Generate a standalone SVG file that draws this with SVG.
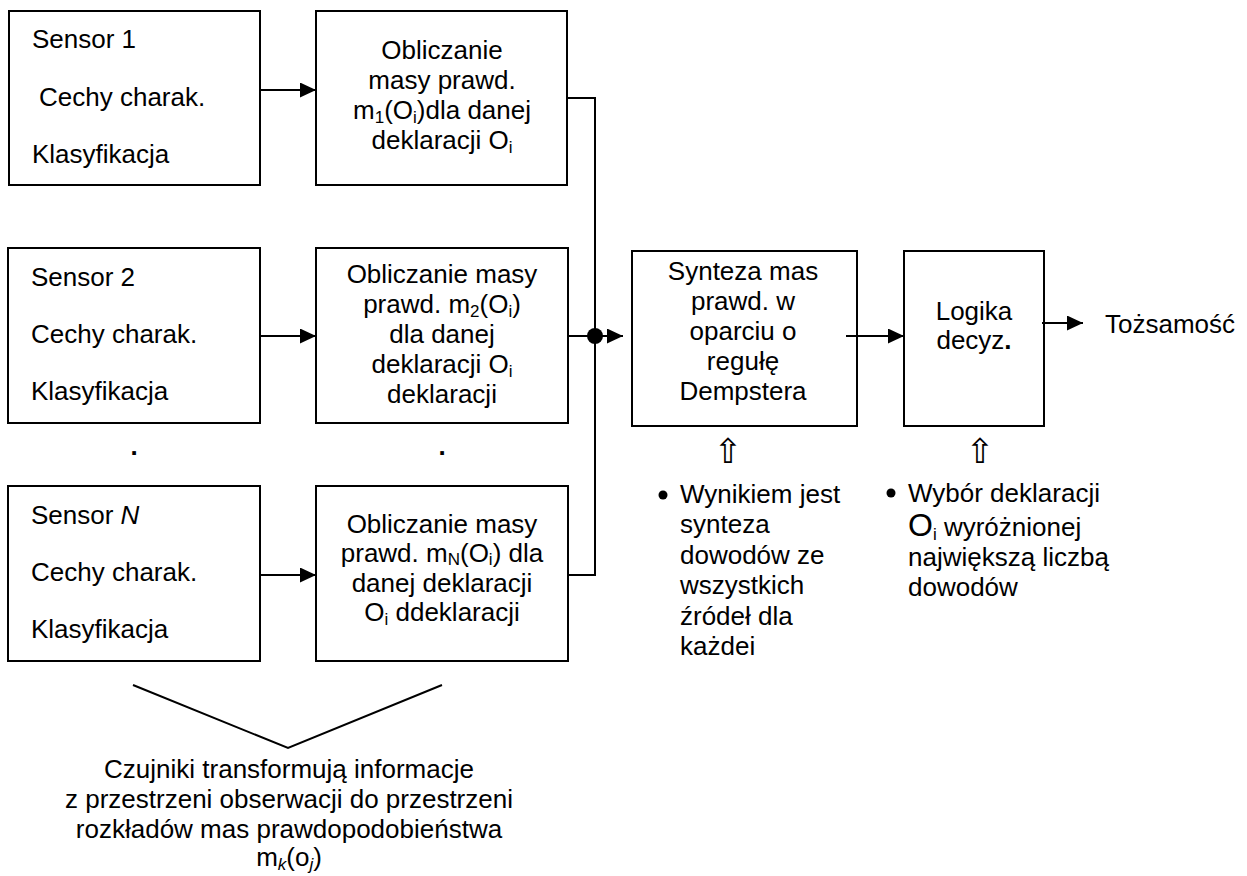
<svg xmlns="http://www.w3.org/2000/svg" width="1247" height="876" viewBox="0 0 1247 876">
<defs>
<style>
text{font-family:"Liberation Sans",Arial,sans-serif;font-size:26px;fill:#000}
.c{text-anchor:middle}
.box{fill:#fff;stroke:#000;stroke-width:2}
.ln{fill:none;stroke:#000;stroke-width:2}
.sym{font-family:"DejaVu Sans",sans-serif;font-size:34px;text-anchor:middle}
</style>
<marker id="ah" markerUnits="userSpaceOnUse" markerWidth="17" markerHeight="15" refX="16" refY="7.5" orient="auto">
<path d="M0,0 L16,7.5 L0,15 Z" fill="#000"/>
</marker>
</defs>
<rect width="1247" height="876" fill="#fff"/>

<g id="sensor1">
<rect class="box" x="9" y="11" width="251" height="174"/>
<text x="32" y="48">Sensor 1</text>
<text x="39" y="106">Cechy charak.</text>
<text x="32" y="163">Klasyfikacja</text>
</g>
<g id="oblicz1">
<rect class="box" x="316" y="11" width="251" height="174"/>
<text class="c" x="442" y="59">Obliczanie</text>
<text class="c" x="442" y="89">masy prawd.</text>
<text class="c" x="442" y="119">m<tspan font-size="17" dy="4">1</tspan><tspan dy="-4">(O</tspan><tspan font-size="17" dy="4">i</tspan><tspan dy="-4">)dla danej</tspan></text>
<text class="c" x="442" y="149">deklaracji O<tspan font-size="17" dy="4">i</tspan></text>
</g>

<g id="sensor2">
<rect class="box" x="8" y="248" width="252" height="175"/>
<text x="31" y="286">Sensor 2</text>
<text x="31" y="343">Cechy charak.</text>
<text x="31" y="400">Klasyfikacja</text>
</g>
<g id="oblicz2">
<rect class="box" x="316" y="248" width="252" height="175"/>
<text class="c" x="442" y="283">Obliczanie masy</text>
<text class="c" x="442" y="313">prawd. m<tspan font-size="17" dy="4">2</tspan><tspan dy="-4">(O</tspan><tspan font-size="17" dy="4">i</tspan><tspan dy="-4">)</tspan></text>
<text class="c" x="442" y="343">dla danej</text>
<text class="c" x="442" y="373">deklaracji O<tspan font-size="17" dy="4">i</tspan></text>
<text class="c" x="442" y="403">deklaracji</text>
</g>

<g id="dots">
<text class="c" x="134" y="455" font-weight="bold">.</text>
<text class="c" x="442" y="455" font-weight="bold">.</text>
</g>

<g id="sensorN">
<rect class="box" x="8" y="486" width="252" height="175"/>
<text x="31" y="524">Sensor <tspan font-style="italic">N</tspan></text>
<text x="31" y="581">Cechy charak.</text>
<text x="31" y="638">Klasyfikacja</text>
</g>
<g id="obliczN">
<rect class="box" x="316" y="486" width="252" height="175"/>
<text class="c" x="442" y="533">Obliczanie masy</text>
<text class="c" x="442" y="562">prawd. m<tspan font-size="17" dy="3">N</tspan><tspan dy="-3">(O</tspan><tspan font-size="17" dy="3">i</tspan><tspan dy="-3">) dla</tspan></text>
<text class="c" x="442" y="592">danej deklaracji</text>
<text class="c" x="442" y="621">O<tspan font-size="17" dy="4">i</tspan><tspan dy="-4"> ddeklaracji</tspan></text>
</g>

<g id="synteza">
<rect class="box" x="632" y="251" width="225" height="175"/>
<text class="c" x="743" y="280">Synteza mas</text>
<text class="c" x="743" y="310">prawd. w</text>
<text class="c" x="743" y="340">oparciu o</text>
<text class="c" x="743" y="370">regułę</text>
<text class="c" x="743" y="400">Dempstera</text>
</g>

<g id="logika">
<rect class="box" x="904" y="251" width="140" height="175"/>
<text class="c" x="974" y="320">Logika</text>
<text class="c" x="974" y="349">decyz<tspan font-weight="bold">.</tspan></text>
</g>

<g id="tozsamosc">
<text x="1105" y="333">Tożsamość</text>
</g>

<g id="note1">
<text class="sym" x="728" y="463">⇧</text>
<circle cx="663" cy="495" r="4.5" fill="#000"/>
<text x="680" y="503">Wynikiem jest</text>
<text x="680" y="533">synteza</text>
<text x="680" y="564">dowodów ze</text>
<text x="680" y="594">wszystkich</text>
<text x="680" y="625">źródeł dla</text>
<text x="680" y="655">każdei</text>
</g>

<g id="note2">
<text class="sym" x="980" y="463">⇧</text>
<circle cx="891" cy="493" r="4.5" fill="#000"/>
<text x="908" y="502">Wybór deklaracji</text>
<text x="908" y="536"><tspan font-size="32">O</tspan><tspan font-size="17" dy="4">i</tspan><tspan dy="-4"> wyróżnionej</tspan></text>
<text x="908" y="566">największą liczbą</text>
<text x="908" y="596">dowodów</text>
</g>

<g id="note3">
<polyline class="ln" points="133,685 288,748 442,685" stroke-width="1.5"/>
<text class="c" x="289" y="778">Czujniki transformują informacje</text>
<text class="c" x="289" y="808">z przestrzeni obserwacji do przestrzeni</text>
<text class="c" x="289" y="838">rozkładów mas prawdopodobieństwa</text>
<text class="c" x="289" y="866">m<tspan font-size="17" font-style="italic" dy="4">k</tspan><tspan dy="-4">(o</tspan><tspan font-size="17" font-style="italic" dy="4">j</tspan><tspan dy="-4">)</tspan></text>
</g>

<g id="connectors">
<line class="ln" x1="260" y1="90" x2="316" y2="90" marker-end="url(#ah)"/>
<line class="ln" x1="260" y1="336" x2="316" y2="336" marker-end="url(#ah)"/>
<line class="ln" x1="260" y1="575" x2="316" y2="575" marker-end="url(#ah)"/>
<polyline class="ln" points="567,98 595,98 595,575 568,575"/>
<line class="ln" x1="568" y1="336" x2="595" y2="336"/>
<circle cx="595" cy="336" r="8" fill="#000"/>
<line class="ln" x1="600" y1="336" x2="623" y2="336" marker-end="url(#ah)"/>
<line class="ln" x1="846" y1="336" x2="904" y2="336" marker-end="url(#ah)"/>
<line class="ln" x1="1042" y1="323" x2="1083" y2="323" marker-end="url(#ah)"/>
</g>
</svg>
